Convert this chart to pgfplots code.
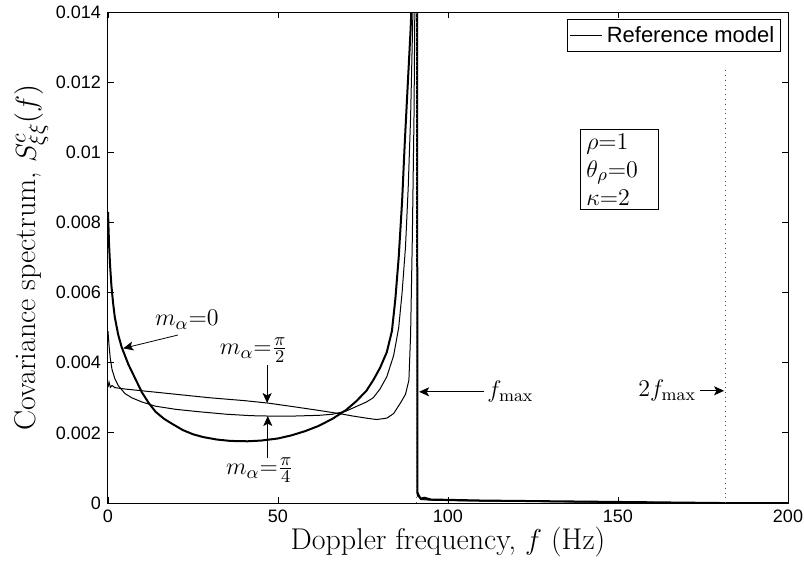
\documentclass[border=0pt]{standalone}
\usepackage{fontspec}
\usepackage{pgfplots}
\pgfplotsset{compat=1.18}
\usetikzlibrary{arrows.meta,calc}
\newfontfamily\arial{Liberation Sans}
\begin{document}
\begin{tikzpicture}[>={Stealth[length=5pt,width=4.5pt,inset=1.2pt]}]
\begin{axis}[
  scale only axis, width=340pt, height=245.5pt,
  xmin=0, xmax=200, ymin=0, ymax=0.014,
  xtick={0,50,100,150,200},
  ytick={0,0.002,0.004,0.006,0.008,0.01,0.012,0.014},
  scaled y ticks=false,
  yticklabel style={/pgf/number format/fixed,/pgf/number format/precision=3},
  /pgf/number format/assume math mode=true,
  tick align=inside, major tick length=3pt,
  tick label style={font=\arial\fontsize{9}{10}\selectfont},
  axis line style={line width=0.5pt},
  every tick/.style={black, line width=0.4pt},
  xlabel={Doppler frequency, $f$ (Hz)},
  ylabel={Covariance spectrum, $S^c_{\xi\xi}(f)$},
  label style={font=\fontsize{15}{17}\selectfont},
  xlabel style={yshift=5pt},
  ylabel style={yshift=-3pt},
  legend style={at={(0.99,0.985)}, anchor=north east, draw=black, line width=0.5pt,
    font=\arial\fontsize{11}{13}\selectfont, inner sep=1.2pt},
  legend cell align=left,
  legend image code/.code={\draw[line width=0.5pt] (0pt,0pt) -- (16pt,0pt);},
]
% m_alpha = 0
\addplot[black, line width=1pt] coordinates {
(0,8.3e-3)(0.3,7.4e-3)(0.6,6.8e-3)(1,6.2e-3)(1.5,5.7e-3)(2,5.3e-3)(3,4.8e-3)(4,4.45e-3)(5,4.2e-3)(6,3.95e-3)(7,3.75e-3)(8.5,3.45e-3)(10,3.15e-3)(12,2.85e-3)(14,2.6e-3)(16.5,2.4e-3)(19,2.25e-3)(22,2.08e-3)(25,1.96e-3)(28,1.88e-3)(32,1.81e-3)(36,1.77e-3)(41,1.76e-3)(45,1.78e-3)(50,1.84e-3)(54,1.93e-3)(58,2.05e-3)(62,2.2e-3)(66,2.4e-3)(70,2.65e-3)(73,2.9e-3)(76,3.2e-3)(78,3.5e-3)(80,3.85e-3)(82,4.3e-3)(83.5,4.9e-3)(84.5,5.8e-3)(85.5,7.0e-3)(86.5,8.6e-3)(87.3,10.3e-3)(88.2,12.0e-3)(89,13.5e-3)(89.6,15e-3)(90.9,15e-3)(91,0.3e-3)(91.5,0.2e-3)(92,0.12e-3)(93,0.15e-3)(95,0.1e-3)(100,0.09e-3)(110,0.07e-3)(120,0.06e-3)(130,0.05e-3)(140,0.04e-3)(150,0.03e-3)(160,0.02e-3)(170,0.01e-3)(180,0)(200,0)
};
\addlegendentry{Reference model}
% m_alpha = pi/2
\addplot[black, line width=0.5pt, forget plot] coordinates {
(0,3.3e-3)(0.3,3.45e-3)(0.7,3.3e-3)(1.2,3.35e-3)(2,3.29e-3)(5,3.25e-3)(10,3.2e-3)(20,3.1e-3)(30,3.0e-3)(40,2.92e-3)(47,2.85e-3)(55,2.74e-3)(62,2.64e-3)(68,2.55e-3)(72,2.48e-3)(76,2.42e-3)(79,2.38e-3)(82,2.42e-3)(84,2.55e-3)(86,2.85e-3)(87.5,3.1e-3)(88.5,3.5e-3)(89,4.8e-3)(89.5,7.5e-3)(90,11e-3)(90.4,16e-3)(90.9,16e-3)(91,0.25e-3)(92,0.1e-3)(95,0.08e-3)(105,0.06e-3)(120,0.05e-3)(140,0.03e-3)(160,0.015e-3)(175,0)(200,0)
};
% m_alpha = pi/4
\addplot[black, line width=0.5pt, forget plot] coordinates {
(0,4.9e-3)(0.3,4.5e-3)(0.7,4.1e-3)(1.2,3.8e-3)(2,3.55e-3)(3,3.35e-3)(5,3.12e-3)(7,3.0e-3)(10,2.88e-3)(14,2.76e-3)(20,2.67e-3)(27,2.6e-3)(35,2.53e-3)(42,2.49e-3)(47,2.48e-3)(55,2.48e-3)(62,2.5e-3)(66,2.53e-3)(70,2.62e-3)(73,2.75e-3)(76,2.88e-3)(78,3.0e-3)(80,3.25e-3)(82,3.6e-3)(84,4.2e-3)(85.5,5.0e-3)(86.5,6.0e-3)(87.5,7.3e-3)(88.3,9.0e-3)(89,11e-3)(89.8,14.5e-3)(90.2,16e-3)(90.9,16e-3)(91,0.2e-3)(92,0.14e-3)(94,0.1e-3)(100,0.08e-3)(115,0.06e-3)(130,0.04e-3)(150,0.025e-3)(165,0.01e-3)(175,0)(200,0)
};
% f_max and 2 f_max markers
\addplot[black!60, dotted, line width=0.4pt, forget plot] coordinates {(90.8,0)(90.8,0.014)};
\addplot[black!70, dotted, line width=0.4pt, forget plot] coordinates {(181.6,0)(181.6,0.0124)};
% annotations
\node[font=\fontsize{12.5}{14}\selectfont] at (axis cs:23.2,0.00522) {$m_\alpha{=}0$};
\draw[->, line width=0.4pt] (axis cs:20.6,0.00479) -- (axis cs:4.5,0.00441);
\node[font=\fontsize{12.5}{14}\selectfont] at (axis cs:42.9,0.00436) {$m_\alpha{=}\frac{\pi}{2}$};
\draw[->, line width=0.4pt] (axis cs:46.8,0.00394) -- (axis cs:46.8,0.00285);
\node[font=\fontsize{12.5}{14}\selectfont] at (axis cs:44.7,0.00094) {$m_\alpha{=}\frac{\pi}{4}$};
\draw[->, line width=0.4pt] (axis cs:47,0.00128) -- (axis cs:47,0.00248);
\draw[->, line width=0.4pt] (axis cs:110.6,0.00317) -- (axis cs:91.5,0.00317);
\node[font=\fontsize{12.5}{14}\selectfont, anchor=west, inner sep=1.5pt] at (axis cs:110.6,0.00317) {$f_{\max}$};
\draw[->, line width=0.4pt] (axis cs:174,0.00320) -- (axis cs:181.2,0.00320);
\node[font=\fontsize{12.5}{14}\selectfont, anchor=east, inner sep=1.5pt] at (axis cs:174,0.00320) {$2f_{\max}$};
\node[draw=black, line width=0.5pt, font=\fontsize{12.5}{14}\selectfont, align=left,
  text width=33pt, inner xsep=3pt, inner ysep=2pt] at (axis cs:150.4,0.00951)
  {$\rho{=}1$\\$\theta_\rho{=}0$\\$\kappa{=}2$};
\end{axis}
\pgfresetboundingbox
\path[use as bounding box] ($(current axis.south west)+(-54pt,-30.5pt)$) rectangle ($(current axis.north east)+(8pt,6pt)$);
\end{tikzpicture}
\end{document}
